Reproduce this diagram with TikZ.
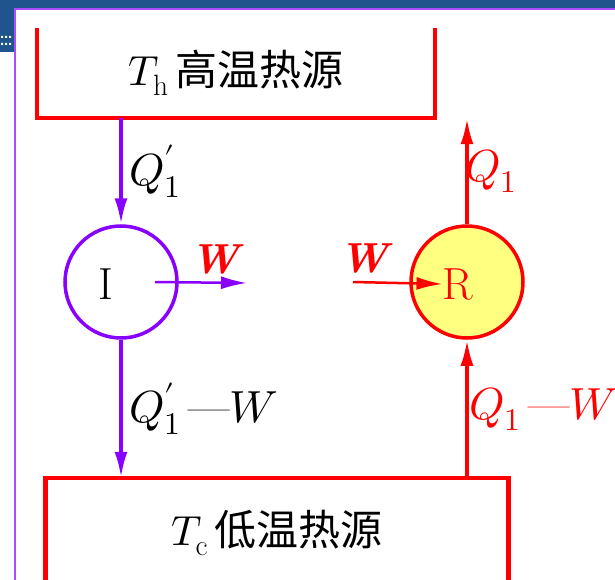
\documentclass[tikz,border=0pt]{standalone}
\usepackage{fontspec}
\usepackage{unicode-math}
\newfontfamily\cjk{Noto Sans CJK SC}
\usetikzlibrary{arrows.meta,positioning}
\definecolor{slideblue}{RGB}{31,84,140}
\definecolor{engviolet}{RGB}{136,0,255}
\definecolor{engyellow}{RGB}{255,255,128}

\begin{document}
\begin{tikzpicture}[x=1pt, y=-1pt,
    every node/.style={font=\fontsize{42}{48}\selectfont},
    heat/.style={font=\fontsize{45}{50}\selectfont},
    wall/.style={draw=red, line width=4.5pt},
    flowI/.style={engviolet, line width=3.5pt, -{Latex[length=26pt,width=13pt]}},
    flowR/.style={red, line width=3.5pt, -{Latex[length=26pt,width=13pt]}},
    engine/.style={circle, minimum size=112pt, line width=3.5pt, inner sep=0pt},
    work/.style={red, font=\fontsize{42}{48}\selectfont\bfseries\itshape}]
    \useasboundingbox (0,0) rectangle (615,580);
    \fill[slideblue]
        (0,0) rectangle (615,8)
        (0,0) rectangle (14,52);
    \fill[white]
        \foreach \x in {2, 6, 10} {
            \foreach \y in {37, 44} {
                (\x-1,\y-1) rectangle ++(2,2)
            }
        };
    \draw[engviolet!70, line width=1.5pt] (15,580) -- (15,9) -- (615,9);

    \node[minimum width=398pt, minimum height=90pt, inner sep=0pt] (hot) at (236,73)
        {$T_{\mathrm{h}}$\,{\cjk 高温热源}};
    \draw[wall] (hot.north west) -- (hot.south west) -- (hot.south east) -- (hot.north east);
    \node[minimum width=463pt, minimum height=110pt, inner sep=0pt] (cold) at (277,533)
        {$T_{\mathrm{c}}$\,{\cjk 低温热源}};
    \draw[wall] (cold.south west) -- (cold.north west) -- (cold.north east) -- (cold.south east);

    \node[engine, draw=engviolet] (engI) at (121,282) {};
    \node[heat] (labI) at (106,284) {I};
    \node[engine, draw=red, fill=engyellow] (engR) at (467,282) {};
    \node[heat, red, inner sep=0pt] (labR) at (458,284) {R};
    \coordinate (wout) at (247,283);
    \coordinate (win) at (353,282);

    \draw[flowI] (hot.south -| engI) -- (engI) node[midway, right=3pt, black, heat] {$Q'_1$};
    \draw[flowI] (engI) -- (engI |- cold.north) node[midway, right=3pt, black, heat] {$Q'_1$\,---$W$};
    \draw[flowI, line width=2.5pt] ([xshift=34pt]engI.center) -- (wout)
        node[pos=0.65, work, above=4pt] {W};
    \draw[flowR] (engR) -- (engR |- hot.south) node[midway, right=-7pt, heat] {$Q_1$};
    \draw[flowR] (engR |- cold.north) -- (engR) node[midway, right=-3pt, heat] {$Q_1$\,---$W$};
    \draw[flowR, line width=2.5pt] (win) -- (labR.west)
        node[pos=0.12, work, above=4pt] {W};
\end{tikzpicture}
\end{document}
